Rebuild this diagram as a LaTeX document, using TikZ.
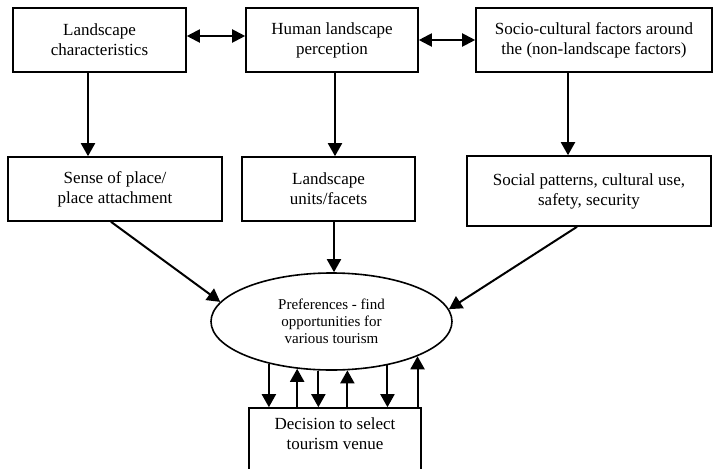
\documentclass[tikz,border=0pt]{standalone}
\usepackage{fontspec}
\setmainfont{Liberation Serif}
\usetikzlibrary{arrows.meta, shapes.geometric}

\begin{document}
\begin{tikzpicture}[x=1pt, y=1pt]
        \tikzstyle{every node}+=[inner sep=0pt, align=center, font=\fontsize{17}{20}\selectfont]
        \tikzstyle{box}=[draw=black, line width=1.6pt, minimum height=64pt]
        \tikzstyle{link}=[black, line width=2pt, -{Triangle[length=13pt,width=14pt]}]
        \tikzstyle{both}=[black, line width=2pt, {Triangle[length=13pt,width=13pt]}-{Triangle[length=13pt,width=13pt]}]
        \useasboundingbox (0,0) rectangle (713,-469);
        \clip (0,0) rectangle (713,-469);
        \node [box, minimum width=173pt] (lc) at (99.5,-40) {Landscape\\characteristics};
        \node [box, minimum width=172pt] (hp) at (332,-40) {Human landscape\\perception};
        \node [box, minimum width=236pt] (sf) at (594,-40) {Socio-cultural factors around\\the (non-landscape factors)};
        \node [box, minimum width=214pt] (sp) at (115,-189) {Sense of place/\\place attachment};
        \node [box, minimum width=173pt] (lu) at (328.5,-189) {Landscape\\units/facets};
        \node [box, minimum width=244pt, minimum height=70pt] (sr) at (589,-191) {Social patterns, cultural use,\\safety, security};
        \node [ellipse, draw=black, line width=1.6pt, minimum width=241pt, minimum height=97pt,
               font=\fontsize{15}{17}\selectfont] (pref) at (331.5,-321.5) {Preferences - find\\opportunities for\\various tourism};
        \node [box, minimum width=172pt, minimum height=80pt] (dec) at (335,-448) {};
        \node (dectext) at (335,-434) {Decision to select\\tourism venue};
        \draw [both] ([yshift=4pt]lc.east) -- ([yshift=4pt]hp.west);
        \draw [both] (hp.east) -- (sf.west);
        \draw [link] ([xshift=-11.5pt]lc.south) -- ([xshift=-11.5pt]lc.south |- sp.north);
        \draw [link] ([xshift=3pt]hp.south) -- ([xshift=3pt]hp.south |- lu.north);
        \draw [link] ([xshift=-26pt]sf.south) -- ([xshift=-26pt]sf.south |- sr.north);
        \draw [link] ([xshift=-4pt]sp.south) -- (pref.170);
        \draw [link] ([xshift=5.5pt]lu.south) -- ([xshift=5.5pt]lu.south |- pref.north);
        \draw [link] ([xshift=-12pt]sr.south) -- (pref.6);
        \draw [link] (pref.214) -- (pref.214 |- dec.north);
        \draw [link] (pref.234 |- dec.north) -- (pref.234);
        \draw [link] (pref.255) -- (pref.255 |- dec.north);
        \draw [link] (pref.288 |- dec.north) -- (pref.288);
        \draw [link] (pref.322) -- (pref.322 |- dec.north);
        \draw [link] (pref.338 |- dec.north) -- (pref.338);
\end{tikzpicture}
\end{document}
